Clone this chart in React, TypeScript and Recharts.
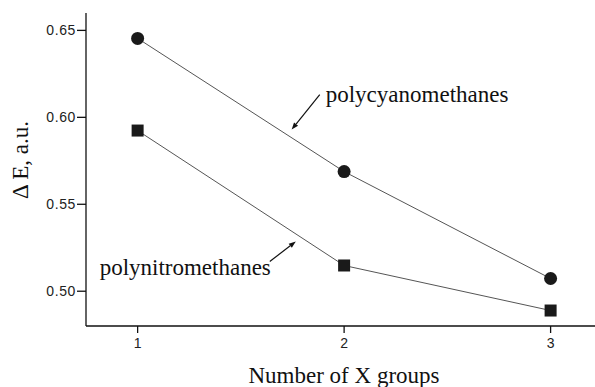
import React from 'react';
import { LineChart, Line, XAxis, YAxis, ReferenceLine, ReferenceDot } from 'recharts';

const groups = [1, 2, 3];
const polycyanomethanes = [0.6454, 0.5688, 0.5073];
const polynitromethanes = [0.5924, 0.5148, 0.4889];
const yTicks = [0.5, 0.55, 0.6, 0.65];
const xTicks = [1, 2, 3];

const data = groups.map((g, i) => ({ x: g, cyano: polycyanomethanes[i], nitro: polynitromethanes[i] }));

const annotations = [
  { text: 'polycyanomethanes', tx: 1.911, ty: 0.6086, ax1: 1.882, ay1: 0.613, ax2: 1.746, ay2: 0.593 },
  { text: 'polynitromethanes', tx: 0.816, ty: 0.5096, ax1: 1.64, ay1: 0.5171, ax2: 1.766, ay2: 0.5286 },
];

const SERIF = '"Liberation Serif", "Times New Roman", serif';
const SANS = '"Liberation Sans", Arial, sans-serif';

const Arrow = (props: any) => {
  const { x1, y1, x2, y2 } = props;
  const dx = x2 - x1;
  const dy = y2 - y1;
  const len = Math.sqrt(dx * dx + dy * dy) || 1;
  const ux = dx / len;
  const uy = dy / len;
  const hl = 7;
  const hw = 2.6;
  const bx = x2 - ux * hl;
  const by = y2 - uy * hl;
  const p1 = `${x2},${y2}`;
  const p2 = `${bx - uy * hw},${by + ux * hw}`;
  const p3 = `${bx + uy * hw},${by - ux * hw}`;
  return (
    <g>
      <line x1={x1} y1={y1} x2={bx} y2={by} stroke="#111" strokeWidth={1.2} />
      <polygon points={`${p1} ${p2} ${p3}`} fill="#111" />
    </g>
  );
};

const SquareDot = (props: any) => {
  const { cx, cy, index } = props;
  return <rect key={`sq-${index}`} x={cx - 6} y={cy - 6} width={12} height={12} fill="#1a1a1a" />;
};

const CircleDot = (props: any) => {
  const { cx, cy, index } = props;
  return <circle key={`ci-${index}`} cx={cx} cy={cy} r={6.5} fill="#1a1a1a" />;
};

export default function App() {
  return (
    <div style={{ position: 'absolute', left: 0, top: 0, width: 595, height: 387, overflow: 'hidden', background: '#fff' }}>
      <LineChart width={595} height={387} data={data} margin={{ top: 13, right: 0, bottom: 0, left: 0 }}>
        <XAxis
          dataKey="x"
          type="number"
          domain={[0.75, 3.215]}
          ticks={xTicks}
          allowDataOverflow
          height={61}
          tickSize={7}
          tickMargin={5}
          stroke="#111"
          strokeWidth={1.3}
          tick={{ fill: '#222', fontSize: 14, fontFamily: SANS }}
          label={(p: any) => {
            const vb = p.viewBox || { x: 86, y: 326, width: 509, height: 61 };
            return (
              <text x={vb.x + 258} y={vb.y + 57} textAnchor="middle" fontFamily={SERIF} fontSize={23} fill="#111">
                Number of X groups
              </text>
            );
          }}
        />
        <YAxis
          type="number"
          domain={[0.48, 0.66]}
          ticks={yTicks}
          allowDataOverflow
          width={86}
          tickSize={9}
          tickMargin={1}
          stroke="#111"
          strokeWidth={1.3}
          tickFormatter={(v: number) => v.toFixed(2)}
          tick={{ fill: '#222', fontSize: 14, fontFamily: SANS, letterSpacing: 0.6 }}
          label={(p: any) => {
            const vb = p.viewBox || { x: 0, y: 13, width: 86, height: 313 };
            const cx = vb.x + 28;
            const cy = vb.y + 147;
            return (
              <text x={cx} y={cy} transform={`rotate(-90 ${cx} ${cy})`} textAnchor="middle" fontFamily={SERIF} fontSize={23} fill="#111">
                Δ E, a.u.
              </text>
            );
          }}
        />
        <Line dataKey="cyano" stroke="#555" strokeWidth={1} dot={CircleDot} activeDot={false} isAnimationActive={false} />
        <Line dataKey="nitro" stroke="#555" strokeWidth={1} dot={SquareDot} activeDot={false} isAnimationActive={false} />
        {annotations.map((a, i) => (
          <ReferenceLine
            key={`arr-${i}`}
            segment={[{ x: a.ax1, y: a.ay1 }, { x: a.ax2, y: a.ay2 }]}
            ifOverflow="visible"
            shape={Arrow}
          />
        ))}
        {annotations.map((a, i) => (
          <ReferenceDot
            key={`txt-${i}`}
            x={a.tx}
            y={a.ty}
            ifOverflow="visible"
            shape={(p: any) => (
              <text x={p.cx} y={p.cy} fontFamily={SERIF} fontSize={23} fill="#111">
                {a.text}
              </text>
            )}
          />
        ))}
      </LineChart>
    </div>
  );
}
